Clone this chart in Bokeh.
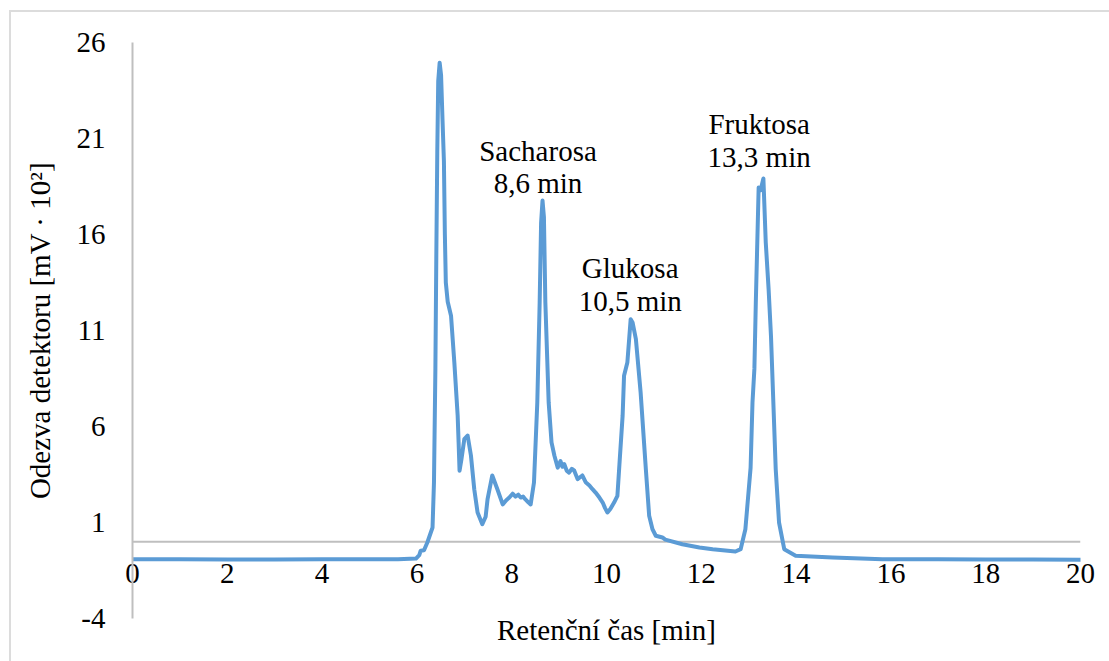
from bokeh.plotting import figure
from bokeh.models import Range1d, FixedTicker, ColumnDataSource, Span
from bokeh.embed import file_html
from bokeh.resources import INLINE
from bokeh.core.properties import value

# ---- data ----
time_min = [0.0, 1.0, 2.0, 3.0, 4.0, 5.0, 5.6, 5.98, 6.05, 6.08, 6.15, 6.22, 6.33, 6.36,
            6.39, 6.41, 6.43, 6.45, 6.48, 6.51, 6.54, 6.57, 6.59, 6.61, 6.65, 6.72, 6.79, 6.86,
            6.88, 6.90, 6.94, 7.00, 7.07, 7.14, 7.21, 7.28, 7.38, 7.45, 7.49, 7.59, 7.70, 7.81,
            7.88, 7.95, 8.02, 8.08, 8.14, 8.19, 8.24, 8.29, 8.35, 8.40, 8.47, 8.54, 8.59, 8.62,
            8.65, 8.68, 8.71, 8.78, 8.84, 8.90, 8.97, 9.03, 9.07, 9.11, 9.16, 9.21, 9.27, 9.32,
            9.39, 9.49, 9.56, 9.64, 9.70, 9.77, 9.85, 9.92, 9.97, 10.02, 10.08, 10.16, 10.23,
            10.28, 10.34, 10.37, 10.44, 10.51, 10.55, 10.62, 10.72, 10.83, 10.90, 10.97, 11.04,
            11.18, 11.24, 11.60, 11.96, 12.24, 12.72, 12.83, 12.93, 13.04, 13.08, 13.12, 13.15,
            13.21, 13.25, 13.28, 13.31, 13.36, 13.42, 13.47, 13.57, 13.64, 13.75, 13.99, 14.77,
            15.82, 17.0, 18.0, 19.0, 20.0]
signal = [-0.91, -0.92, -0.93, -0.93, -0.92, -0.92, -0.92, -0.88, -0.70, -0.47, -0.45, -0.04,
          0.74, 3.08, 9.0, 15.0, 20.3, 24.0, 24.95, 24.3, 22.0, 19.8, 16.0, 13.5, 12.5, 11.77,
          9.33, 6.57, 5.17, 3.7, 4.3, 5.34, 5.53, 4.49, 2.73, 1.52, 0.91, 1.3, 2.2, 3.45, 2.72,
          1.94, 2.15, 2.3, 2.5, 2.35, 2.45, 2.3, 2.35, 2.2, 2.05, 1.94, 3.08, 7.25, 12.46, 16.6,
          17.77, 16.9, 12.46, 7.25, 5.17, 4.49, 3.86, 4.2, 3.9, 4.04, 3.7, 3.6, 3.8, 3.7,
          3.26, 3.45, 3.1, 2.93, 2.75, 2.56, 2.3, 2.04, 1.75, 1.52, 1.7, 2.04, 2.39,
          4.3, 6.56, 8.64, 9.33, 11.59, 11.42, 10.55, 7.77, 3.78, 1.35, 0.65, 0.31,
          0.22, 0.11, -0.13, -0.30, -0.39, -0.51, -0.39, 0.65, 3.85, 7.25, 9.0, 12.46,
          18.45, 18.3, 18.6, 18.92, 15.58, 13.15, 10.72, 3.78, 1.0, -0.39, -0.73, -0.82,
          -0.91, -0.92, -0.93, -0.93, -0.94]
assert len(time_min) == len(signal)

x_ticks = [0, 2, 4, 6, 8, 10, 12, 14, 16, 18, 20]
y_ticks = [-4, 1, 6, 11, 16, 21, 26]
y_tick_labels = ["-4", "1", "6", "11", "16", "21", "26"]

peak_names = ["Sacharosa", "Glukosa", "Fruktosa"]
peak_times = ["8,6 min", "10,5 min", "13,3 min"]

# label anchors (positions, not data)
label_x = [8.555, 10.50, 13.22]
label_y_name = [20.33, 14.23, 21.73]
label_line_gap = 1.67

FONT = "Liberation Serif"
FS = "29px"
LINE_COLOR = "#5b9bd5"
AXIS_COLOR = "#bfbfbf"

p = figure(width=1100, height=651, x_range=Range1d(0, 20), y_range=Range1d(-4, 26),
           output_backend="svg", toolbar_location=None,
           min_border_left=121, min_border_right=31, min_border_top=30, min_border_bottom=45)
p.margin = (10, 0, 0, 9)
p.styles = {"border-top": "2px solid #dcdcdc", "border-left": "2px solid #dcdcdc"}

p.outline_line_color = None
p.xgrid.visible = False
p.ygrid.visible = False
p.background_fill_color = "white"
p.border_fill_color = "white"

zero_line = Span(location=0, dimension="width", line_color=AXIS_COLOR, line_width=2, level="underlay")
p.add_layout(zero_line)

src = ColumnDataSource(dict(t=time_min, s=signal))
p.line("t", "s", source=src, line_color=LINE_COLOR, line_width=4, line_join="round", line_cap="round")

name_src = ColumnDataSource(dict(x=label_x, y=label_y_name, txt=peak_names))
time_src = ColumnDataSource(dict(x=label_x, y=[v - label_line_gap for v in label_y_name], txt=peak_times))
for s in (name_src, time_src):
    p.text("x", "y", text="txt", source=s, text_font=value(FONT), text_font_size=value(FS),
           text_align="center", text_baseline="alphabetic", text_color="black")

for ax in (p.xaxis[0], p.yaxis[0]):
    ax.axis_line_color = AXIS_COLOR
    ax.axis_line_width = 2
    ax.major_tick_line_color = None
    ax.minor_tick_line_color = None
    ax.major_tick_in = 0
    ax.major_tick_out = 0
    ax.minor_tick_in = 0
    ax.minor_tick_out = 0
    ax.major_label_text_font = FONT
    ax.major_label_text_font_size = FS
    ax.major_label_text_color = "black"
    ax.axis_label_text_font = FONT
    ax.axis_label_text_font_size = FS
    ax.axis_label_text_font_style = "normal"
    ax.axis_label_text_color = "black"

p.xaxis.ticker = FixedTicker(ticks=x_ticks)
p.yaxis.ticker = FixedTicker(ticks=y_ticks)
p.yaxis.major_label_overrides = {t: lab for t, lab in zip(y_ticks, y_tick_labels)}
p.xaxis.axis_line_color = None
p.xaxis.major_label_standoff = -55
p.xaxis.axis_label = "Retenční čas [min]"
p.xaxis.axis_label_standoff = 28
p.yaxis.major_label_standoff = 27
p.yaxis.axis_label = "Odezva detektoru [mV · 10²]"
p.yaxis.axis_label_standoff = 18

open("out.html", "w").write(file_html(p, INLINE))
